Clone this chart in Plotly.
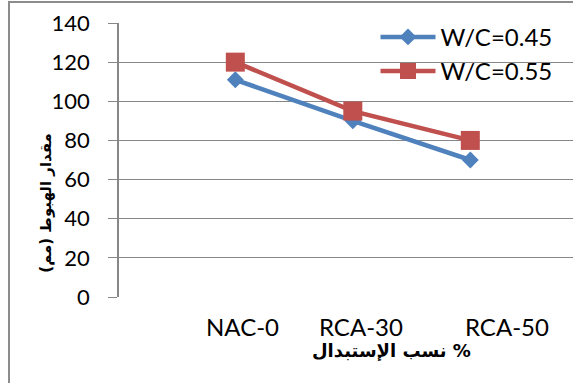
import plotly.graph_objects as go

# Slump results by aggregate replacement level
categories = ["NAC-0", "RCA-30", "RCA-50"]
slump_wc045 = [111, 90, 70]
slump_wc055 = [120, 95, 80]
series_names = ["W/C=0.45", "W/C=0.55"]
y_ticks = [0, 20, 40, 60, 80, 100, 120, 140]

x_title = "نسب الإستبدال %"
y_title = "مقدار الهبوط (مم)"

BLUE = "#4F81BD"
RED = "#C0504D"
GRID = "#878787"
FRAME = "#8c8c8c"
LATIN = "Lato, Carlito, Calibri, sans-serif"
ARABIC = "DejaVu Sans, sans-serif"

xpos = list(range(len(categories)))

fig = go.Figure()
fig.add_trace(go.Scatter(
    x=xpos, y=slump_wc045, name=series_names[0], mode="lines+markers",
    line=dict(color=BLUE, width=4.5),
    marker=dict(symbol="diamond", size=13, color=BLUE),
))
fig.add_trace(go.Scatter(
    x=xpos, y=slump_wc055, name=series_names[1], mode="lines+markers",
    line=dict(color=RED, width=4.5),
    marker=dict(symbol="square", size=19, color=RED),
))

# chart area outline (empty bordered box anchored at the top-left corner)
fig.add_annotation(
    x=-0.2434, y=1.0785, xref="paper", yref="paper", text="",
    showarrow=False, xanchor="left", yanchor="top",
    width=640, height=460, borderpad=0,
    bordercolor=FRAME, borderwidth=2, bgcolor="rgba(0,0,0,0)",
)

# category labels under the axis
label_shift = [7, 8, 37]
for xi, (cat, dx) in enumerate(zip(categories, label_shift)):
    fig.add_annotation(
        x=xi, y=0, xref="x", yref="y", text=cat, showarrow=False,
        xanchor="center", yanchor="middle",
        yshift=-29, xshift=dx, font=dict(family=LATIN, size=24, color="black"),
    )

fig.add_annotation(
    x=0.601, y=-0.195, xref="paper", yref="paper", text=f"<b>{x_title}</b>",
    showarrow=False, xanchor="center", yanchor="middle",
    font=dict(family=ARABIC, size=18, color="black"),
)
fig.add_annotation(
    x=-0.161, y=0.344, xref="paper", yref="paper", text=f"<b>{y_title}</b>",
    showarrow=False, xanchor="center", yanchor="middle", textangle=-90,
    font=dict(family=ARABIC, size=15, color="black"),
)

fig.update_layout(
    width=573, height=383,
    margin=dict(l=119, r=0, t=23, b=86),
    paper_bgcolor="white", plot_bgcolor="white",
    showlegend=True,
    legend=dict(
        x=0.565, y=1.03, xanchor="left", yanchor="top",
        bgcolor="rgba(0,0,0,0)", font=dict(family=LATIN, size=24, color="black"),
        itemwidth=55, tracegroupgap=0,
    ),
    xaxis=dict(
        range=[-0.99, 2.874], showgrid=False, zeroline=False,
        showticklabels=False, ticks="", showline=False,
    ),
    yaxis=dict(
        range=[0, 140], tickvals=y_ticks, showgrid=True, gridcolor=GRID, gridwidth=1.3,
        zeroline=False, showline=True, linecolor=GRID, linewidth=1.5,
        ticks="outside", ticklen=9, tickcolor=GRID, tickwidth=1.3,
        ticklabelstandoff=14,
        tickfont=dict(family=LATIN, size=22, color="black"),
    ),
)

fig.write_html("out.html")
